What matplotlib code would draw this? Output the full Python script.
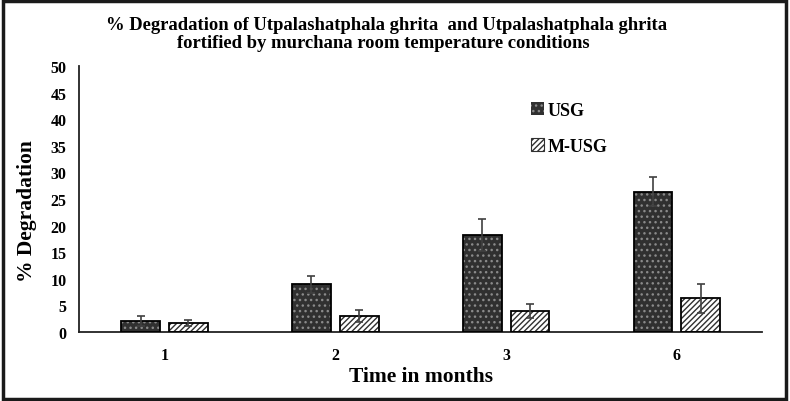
import matplotlib
matplotlib.use("Agg")
import matplotlib.pyplot as plt
import numpy as np
from matplotlib.patches import Rectangle

months = ["1", "2", "3", "6"]
usg = [2.1, 9.0, 18.3, 26.4]
usg_err = [0.9, 1.6, 3.0, 2.7]
musg = [1.7, 3.0, 3.9, 6.3]
musg_err = [0.6, 1.1, 1.3, 2.8]
series_names = ["USG", "M-USG"]
title_line1 = "% Degradation of Utpalashatphala ghrita  and Utpalashatphala ghrita"
title_line2 = "fortified by murchana room temperature conditions"

plt.rcParams['font.family'] = ['Liberation Serif', 'DejaVu Serif']
plt.rcParams['hatch.linewidth'] = 1.0

fig = plt.figure(figsize=(7.9, 4.02), dpi=100)
ax = fig.add_axes([0.1, 0.1716, 0.865, 0.662])

x = np.arange(len(months))
w = 0.228
off = 0.14

# USG: dark fill with light dotted pattern
ax.bar(x - off, usg, w, color='#303030', edgecolor='#8a8a8a', hatch='...', linewidth=0, zorder=2)
ax.bar(x - off, usg, w, fill=False, edgecolor='black', linewidth=1.3, zorder=3)
ax.errorbar(x - off, usg, yerr=usg_err, fmt='none', ecolor='#404040', elinewidth=1.2, capsize=3, capthick=1.2, zorder=4)

# M-USG: white with diagonal lines
ax.bar(x + off, musg, w, color='white', edgecolor='#303030', hatch='//////', linewidth=0, zorder=2)
ax.bar(x + off, musg, w, fill=False, edgecolor='black', linewidth=1.3, zorder=3)
ax.errorbar(x + off, musg, yerr=musg_err, fmt='none', ecolor='#404040', elinewidth=1.2, capsize=3, capthick=1.2, zorder=4)

ax.set_xlim(-0.5, 3.5)
ax.set_ylim(0, 50)
ax.set_yticks(np.arange(0, 51, 5))
ax.set_xticks(x)
ax.set_xticklabels(months)
ax.tick_params(axis='both', length=0, labelsize=11.5)
ax.tick_params(axis='y', pad=9)
ax.tick_params(axis='x', pad=11)
for lab in ax.get_xticklabels() + ax.get_yticklabels():
    lab.set_fontweight('bold')
for s in ['top', 'right']:
    ax.spines[s].set_visible(False)
for s in ['left', 'bottom']:
    ax.spines[s].set_linewidth(1.3)
    ax.spines[s].set_color('#222222')

ax.set_xlabel("Time in months", fontsize=15.5, fontweight='bold')
ax.set_ylabel("% Degradation", fontsize=15.5, fontweight='bold')
ax.xaxis.set_label_coords(0.5, -0.128)
ax.yaxis.set_label_coords(-0.061, 0.46)

fig.text(0.489, 0.926, title_line1, ha='center', va='baseline', fontsize=13.4, fontweight='bold')
fig.text(0.485, 0.881, title_line2, ha='center', va='baseline', fontsize=13.4, fontweight='bold')

# legend
h1 = Rectangle((0, 0), 1, 1, facecolor='#303030', edgecolor='#8a8a8a', hatch='...', linewidth=0)
h2 = Rectangle((0, 0), 1, 1, facecolor='white', edgecolor='#303030', hatch='//////', linewidth=0.8)
leg = fig.legend([h1, h2], series_names, loc='upper left', bbox_to_anchor=(0.652, 0.785),
                 frameon=False, prop={'weight': 'bold', 'size': 13}, handlelength=0.7,
                 handleheight=0.7, handletextpad=0.2, labelspacing=1.05)

# outer frame
fig.patches.append(Rectangle((0.004, 0.006), 0.991, 0.988, transform=fig.transFigure,
                             fill=False, edgecolor='#1a1a1a', linewidth=2.5))

fig.savefig("out.png", dpi=100)
